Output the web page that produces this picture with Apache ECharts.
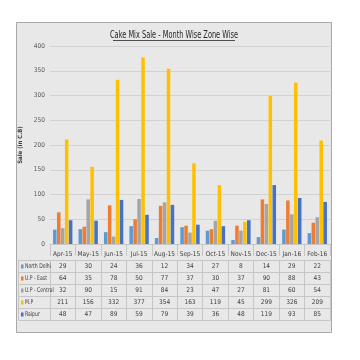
<!DOCTYPE html>
<html><head><meta charset="utf-8">
<script src="https://cdn.jsdelivr.net/npm/echarts@6/dist/echarts.min.js"></script>
<style>html,body{margin:0;padding:0;background:#fff}#c{width:360px;height:360px}</style>
</head><body><div id="c"></div>
<script>
const titleText = 'Cake Mix Sale - Month Wise Zone Wise';
const yAxisTitle = 'Sale (in C.B)';
const months = ['Apr-15','May-15','Jun-15','Jul-15','Aug-15','Sep-15','Oct-15','Nov-15','Dec-15','Jan-16','Feb-16'];
const seriesNames = ['North Delhi','U.P - East','U.P - Central','M.P','Raipur'];
const northDelhi = [29,30,24,36,12,34,27,8,14,29,22];
const upEast = [64,35,78,50,77,37,30,37,90,88,43];
const upCentral = [32,90,15,91,84,23,47,27,81,60,54];
const mp = [211,156,332,377,354,163,119,45,299,326,209];
const raipur = [48,47,89,59,79,39,36,48,119,93,85];
const yTicks = [0,50,100,150,200,250,300,350,400];

const seriesData = [northDelhi, upEast, upCentral, mp, raipur];
const colors = ['#5b9bd5','#ed7d31','#a5a5a5','#ffc000','#4472c4'];
const FONT = '"DejaVu Sans Condensed", "Liberation Sans Narrow", "Roboto Condensed", sans-serif';
const ROW = 12, HEAD_OFF = 4;
const gridTop = 46, gridBottomY = 244, gridLeft = 50, gridRight = 330;
const tableTop = gridBottomY + HEAD_OFF;
const lineCol = '#c6c6c6';

function rowAxis(data, offset, showLabel) {
  return {
    type: 'category', data: data, gridIndex: 0, position: 'bottom', offset: offset,
    axisLine: {show: true, lineStyle: {color: lineCol}},
    axisTick: {show: showLabel, interval: 0, length: ROW, lineStyle: {color: lineCol}},
    axisLabel: {show: showLabel, interval: 0, fontSize: 6.5, color: '#404040', fontFamily: FONT, margin: 3},
    splitLine: {show: false}
  };
}
const xAxes = [rowAxis(months, HEAD_OFF, true)];
seriesData.forEach((arr, k) => xAxes.push(rowAxis(arr.map(String), HEAD_OFF + ROW * (k + 1), true)));
xAxes.push(rowAxis(months.map(() => ''), HEAD_OFF + ROW * (seriesData.length + 1), false));

const graphics = [
  {type: 'rect', z: -10, shape: {x: 16.5, y: 22.5, width: 315, height: 310},
   style: {fill: '#e8e8e8', stroke: '#a8a8a8', lineWidth: 1}},
  {type: 'text', z: 10, x: 174, y: 35, scaleX: 0.7, scaleY: 1,
   style: {text: titleText, textAlign: 'center', textVerticalAlign: 'middle',
           font: '10.5px ' + FONT, fill: '#262626'}},
  {type: 'line', z: 10, shape: {x1: 113, y1: 40.5, x2: 235, y2: 40.5},
   style: {stroke: '#262626', lineWidth: 0.8}},
  {type: 'line', z: 10, shape: {x1: 18.5, y1: tableTop + ROW, x2: 18.5, y2: tableTop + ROW * 6},
   style: {stroke: lineCol, lineWidth: 1}}
];
for (let k = 1; k <= 6; k++) {
  graphics.push({type: 'line', z: 10,
    shape: {x1: 18.5, y1: tableTop + ROW * k + 0.5, x2: gridLeft, y2: tableTop + ROW * k + 0.5},
    style: {stroke: lineCol, lineWidth: 1}});
}
seriesNames.forEach((n, k) => {
  const cy = tableTop + ROW * (k + 1) + ROW / 2 + 0.5;
  graphics.push({type: 'rect', z: 10, shape: {x: 21, y: cy - 2, width: 2.5, height: 4},
    style: {fill: colors[k]}});
  graphics.push({type: 'text', z: 10, x: 25, y: cy, scaleX: 0.78,
    style: {text: n, textAlign: 'left', textVerticalAlign: 'middle',
            font: '6.5px ' + FONT, fill: '#404040'}});
});

const option = {
  backgroundColor: '#ffffff',
  animation: false,
  color: colors,
  grid: {left: gridLeft, right: 360 - gridRight, top: gridTop, bottom: 360 - gridBottomY, containLabel: false},
  xAxis: xAxes,
  yAxis: {
    type: 'value', min: yTicks[0], max: yTicks[yTicks.length - 1], interval: yTicks[1] - yTicks[0],
    name: yAxisTitle, nameLocation: 'middle', nameRotate: 90, nameGap: -7,
    nameTextStyle: {fontSize: 6, fontWeight: 'bold', color: '#404040', fontFamily: FONT},
    axisLine: {show: false}, axisTick: {show: false},
    axisLabel: {fontSize: 6.5, color: '#595959', fontFamily: FONT, margin: 5},
    splitLine: {lineStyle: {color: '#d2d2d2', width: 1}}
  },
  graphic: {elements: graphics},
  series: seriesNames.map((n, i) => ({
    name: n, type: 'bar', xAxisIndex: 0, data: seriesData[i],
    barGap: '12%', barCategoryGap: '24%',
    itemStyle: {color: colors[i]}
  }))
};
const chart = echarts.init(document.getElementById('c'), null, {renderer: 'canvas'});
chart.setOption(option);
</script></body></html>
